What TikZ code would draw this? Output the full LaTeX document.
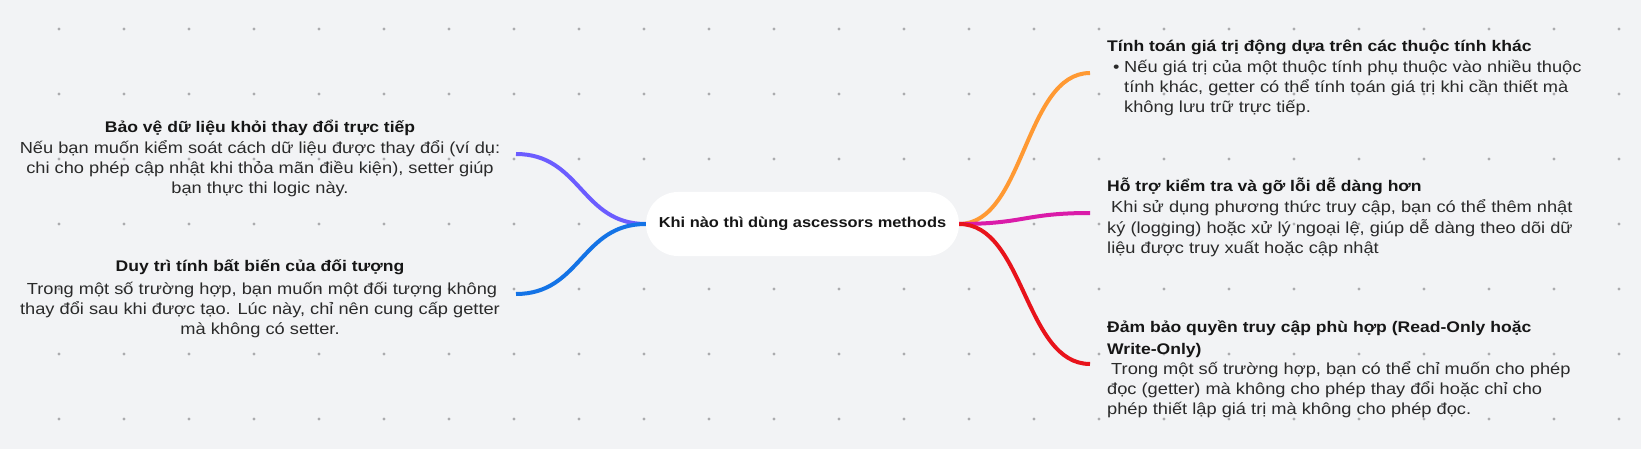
\documentclass[tikz,border=0pt]{standalone}
\usepackage{fontspec}
\setmainfont{Liberation Sans}[FakeStretch=1.14]
\usetikzlibrary{positioning,calc}
\definecolor{cBg}  {HTML}{F2F3F5}
\definecolor{cDot} {HTML}{ABABAE}
\definecolor{cTxt} {HTML}{161616}
\definecolor{cBody}{HTML}{2A2A2A}
\definecolor{cPur} {HTML}{6C5CFF}
\definecolor{cBlu} {HTML}{1473E6}
\definecolor{cOra} {HTML}{FF9933}
\definecolor{cMag} {HTML}{DA1BA9}
\definecolor{cRed} {HTML}{E8131B}
\newcommand{\ttl}[1]{{\fontsize{15.4}{20}\selectfont\bfseries\color{cTxt}#1}}
\tikzset{
  root/.style ={fill=white,rounded corners=32pt,minimum width=313pt,minimum height=64pt,
                inner sep=0pt,font=\fontsize{14.4}{18}\selectfont\bfseries,text=cTxt},
  leafc/.style={align=center,inner sep=0pt,font=\fontsize{16}{20}\selectfont,text=cBody},
  leafl/.style={leafc,align=left},
  br/.style   ={line width=4pt},
  dot/.style  ={fill=cDot},
}

\begin{document}
\begin{tikzpicture}[x=1pt,y=-1pt]
\useasboundingbox (0,0) rectangle (1641,449);
\fill[cBg] (0,0) rectangle (1641,449);

% ===== dot grid ==========================================================
\foreach \i in {0,...,24}
  \foreach \j in {0,...,6}
    \fill[dot] (59+65*\i,29+65*\j) circle (1.6pt);

% ===== centre ============================================================
\node[root] (root) at (802.5,224) {Khi nào thì dùng ascessors methods};

% ===== left side (anchor = baseline of the last line) ====================
\node[leafc,anchor=base] (bA) at (260,194)
  {\ttl{Bảo vệ dữ liệu khỏi thay đổi trực tiếp}\\[1.5pt]
   Nếu bạn muốn kiểm soát cách dữ liệu được thay đổi (ví dụ:\\
   chi cho phép cập nhật khi thỏa mãn điều kiện), setter giúp\\
   bạn thực thi logic này.};
\node[leafc,anchor=base] (bB) at (260,334)
  {\ttl{Duy trì tính bất biến của đối tượng}\\[2.5pt]
   \hspace*{4pt}Trong một số trường hợp, bạn muốn một đối tượng không\\
   thay đổi sau khi được tạo. Lúc này, chỉ nên cung cấp getter\\
   mà không có setter.};

\coordinate (eA) at (516,154);
\coordinate (eB) at (516,294);
\draw[br,cPur] (root.west) .. controls (581,224) and (581,154) .. (eA);
\draw[br,cBlu] (root.west) .. controls (581,224) and (581,294) .. (eB);

% ===== right side ========================================================
\node[leafl,anchor=base west] (bC) at (1107,113)
  {\ttl{Tính toán giá trị động dựa trên các thuộc tính khác}\\[1.5pt]
   \hspace*{6pt}\makebox[11pt][l]{\textbullet}Nếu giá trị của một thuộc tính phụ thuộc vào nhiều thuộc\\
   \hspace*{17pt}tính khác, getter có thể tính toán giá trị khi cần thiết mà\\
   \hspace*{17pt}không lưu trữ trực tiếp.};
\node[leafl,anchor=base west] (bD) at (1107,253)
  {\ttl{Hỗ trợ kiểm tra và gỡ lỗi dễ dàng hơn}\\[2pt]
   \hspace*{4pt}Khi sử dụng phương thức truy cập, bạn có thể thêm nhật\\
   ký (logging) hoặc xử lý ngoại lệ, giúp dễ dàng theo dõi dữ\\
   liệu được truy xuất hoặc cập nhật};
\node[leafl,anchor=base west] (bE) at (1107,414)
  {\ttl{Đảm bảo quyền truy cập phù hợp (Read-Only hoặc}\\[1.5pt]
   \ttl{Write-Only)}\\
   \hspace*{4pt}Trong một số trường hợp, bạn có thể chỉ muốn cho phép\\
   đọc (getter) mà không cho phép thay đổi hoặc chỉ cho\\
   phép thiết lập giá trị mà không cho phép đọc.};

\coordinate (eC) at (1090,73);
\coordinate (eD) at (1090,213);
\coordinate (eE) at (1090,364);
\draw[br,cOra] (root.east) .. controls (1024.5,224) and (1024.5,73)  .. (eC);
\draw[br,cMag] (root.east) .. controls (1024.5,224) and (1024.5,213) .. (eD);
\draw[br,cRed] (root.east) .. controls (1024.5,224) and (1024.5,364) .. (eE);
\end{tikzpicture}
\end{document}
